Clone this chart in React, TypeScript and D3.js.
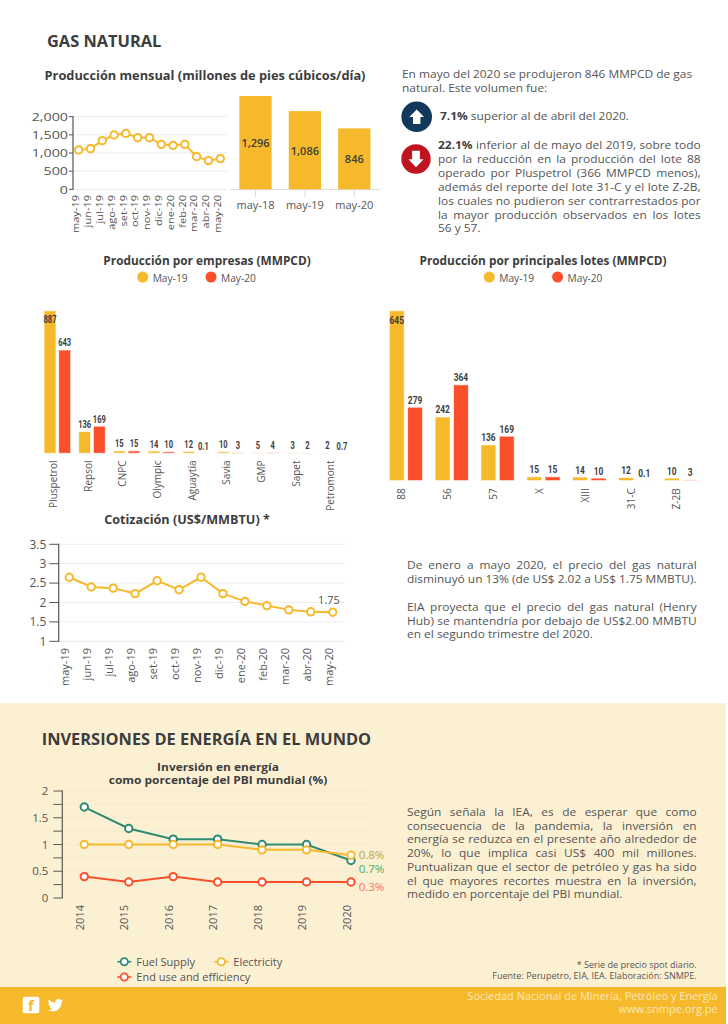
import * as d3 from "d3"

const FONT = "'Open Sans', sans-serif"
const CONDENSED = "Roboto, sans-serif"
const YELLOW = "#f6b92b"
const RED = "#fa4f2a"
const GREEN = "#2f8a72"
const TEXT = "#555555"
const DARK = "#3d3d3d"
const GRID = "#ececec"
const BODY = 11.3
const WIDEN = 1.055

const months = ["may-19", "jun-19", "jul-19", "ago-19", "set-19", "oct-19", "nov-19", "dic-19", "ene-20", "feb-20", "mar-20", "abr-20", "may-20"]
const production = [1086, 1120, 1340, 1495, 1540, 1422, 1422, 1238, 1211, 1238, 900, 790, 846]
const productionTicks = [0, 500, 1000, 1500, 2000]

const yearMonths = ["may-18", "may-19", "may-20"]
const yearProduction = [1296, 1086, 846]

const companies = ["Pluspetrol", "Repsol", "CNPC", "Olympic", "Aguaytía", "Savia", "GMP", "Sapet", "Petromont"]
const companies19 = [887, 136, 15, 14, 12, 10, 5, 3, 2]
const companies20 = [643, 169, 15, 10, 0.1, 3, 4, 2, 0.7]

const lots = ["88", "56", "57", "X", "XIII", "31-C", "Z-2B"]
const lots19 = [645, 242, 136, 15, 14, 12, 10]
const lots20 = [279, 364, 169, 15, 10, 0.1, 3]

const price = [2.65, 2.4, 2.37, 2.23, 2.56, 2.33, 2.65, 2.23, 2.03, 1.92, 1.81, 1.76, 1.75]
const priceTicks = [1, 1.5, 2, 2.5, 3, 3.5]

const years = ["2014", "2015", "2016", "2017", "2018", "2019", "2020"]
const fuelSupply = [1.7, 1.3, 1.1, 1.1, 1, 1, 0.7]
const electricity = [1, 1, 1, 1, 0.9, 0.9, 0.8]
const endUse = [0.4, 0.3, 0.4, 0.3, 0.3, 0.3, 0.3]
const investTicks = [0, 0.25, 0.5, 0.75, 1, 1.25, 1.5, 1.75, 2]

const introLines = ["En mayo del 2020 se produjeron 846 MMPCD de gas", "natural. Este volumen fue:"]
const downLines = [
  "inferior al de mayo del 2019, sobre todo",
  "por la reducción en la producción del lote 88",
  "operado por Pluspetrol (366 MMPCD menos),",
  "además del reporte del lote 31-C y el lote Z-2B,",
  "los cuales no pudieron ser contrarrestados por",
  "la mayor producción observados en los lotes",
  "56 y 57.",
]
const priceText1 = ["De enero a mayo 2020, el precio del gas natural", "disminuyó un 13% (de US$ 2.02 a US$ 1.75 MMBTU)."]
const priceText2 = ["EIA proyecta que el precio del gas natural (Henry", "Hub) se mantendría por debajo de US$2.00 MMBTU", "en el segundo trimestre del 2020."]
const investText = [
  "Según señala la IEA, es de esperar que como",
  "consecuencia de la pandemia, la inversión en",
  "energía se reduzca en el presente año alrededor de",
  "20%, lo que implica casi US$ 400 mil millones.",
  "Puntualizan que el sector de petróleo y gas ha sido",
  "el que mayores recortes muestra en la inversión,",
  "medido en porcentaje del PBI mundial.",
]

const TWITTER =
  "M23.953 4.57a10 10 0 01-2.825.775 4.958 4.958 0 002.163-2.723c-.951.555-2.005.959-3.127 1.184a4.92 4.92 0 00-8.384 4.482C7.69 8.095 4.067 6.13 1.64 3.162a4.822 4.822 0 00-.666 2.475c0 1.71.87 3.213 2.188 4.096a4.904 4.904 0 01-2.228-.616v.06a4.923 4.923 0 003.946 4.827 4.996 4.996 0 01-2.212.085 4.936 4.936 0 004.604 3.417 9.867 9.867 0 01-6.102 2.105c-.39 0-.779-.023-1.17-.067a13.995 13.995 0 007.557 2.209c9.053 0 13.998-7.496 13.998-13.985 0-.21 0-.42-.015-.63A9.935 9.935 0 0024 4.59z"

const ctx = document.createElement("canvas").getContext("2d")!
function measure(text: string, size: number, weight = 400) {
  ctx.font = `${weight} ${size}px 'Open Sans'`
  return ctx.measureText(text).width
}

// one justified line: the gaps between words are stretched up to the given width
function Justified({ text, x, y, width, size = BODY, bold = "" }: any) {
  const full = bold ? `${bold} ${text}` : text
  const natural = measure(text, size) + (bold ? measure(bold + " ", size, 700) : 0)
  const gaps = full.split(" ").length - 1
  const spacing = width ? (width / WIDEN - natural) / gaps : 0
  return (
    <text
      transform={`translate(${x},${y}) scale(${WIDEN},1)`}
      fontSize={size}
      fill={TEXT}
      wordSpacing={spacing}
      style={{ whiteSpace: "pre" }}
    >
      {bold && (
        <tspan fontWeight={700} fill={DARK}>
          {bold}{" "}
        </tspan>
      )}
      {text}
    </text>
  )
}

function Title({ x, y, size, children, anchor = "middle", weight = 700, stretch = 1 }: any) {
  return (
    <text transform={`translate(${x},${y}) scale(${stretch},1)`} fontSize={size} fontWeight={weight} fill={DARK} textAnchor={anchor}>
      {children}
    </text>
  )
}

function RotatedTick({ x, y, label, size = 11, stretch = 1 }: any) {
  return (
    <text transform={`translate(${x},${y}) rotate(-90) scale(${stretch},1)`} fontSize={size} fill={TEXT} textAnchor="end">
      {label}
    </text>
  )
}

function YAxis({ x, x2, scale, ticks, labels, tickLen = 9, gap = 3, size = 12, stretch = 1, grid = GRID, color = "#555" }: any) {
  const [bottom, top] = [scale(ticks[0]), scale(ticks[ticks.length - 1])]
  return (
    <g>
      {ticks.map((t: number) => (
        <g key={t}>
          <line x1={x} x2={x2} y1={scale(t)} y2={scale(t)} stroke={grid} strokeWidth={1} />
          <line x1={x - tickLen} x2={x} y1={scale(t)} y2={scale(t)} stroke={color} strokeWidth={1} />
          {labels(t) !== "" && (
            <text
              transform={`translate(${x - tickLen - gap},${scale(t) + 4.2}) scale(${stretch},1)`}
              fontSize={size}
              fill={TEXT}
              textAnchor="end"
            >
              {labels(t)}
            </text>
          )}
        </g>
      ))}
      <line x1={x} x2={x} y1={top - 0.5} y2={bottom + 0.5} stroke={color} strokeWidth={1.2} />
    </g>
  )
}

function Series({ values, x, y, domain, color, r = 3.7, width = 2 }: any) {
  const line = d3
    .line<number>()
    .x((_, i) => x(domain[i]))
    .y((d) => y(d))
  return (
    <g>
      <path d={line(values) ?? ""} fill="none" stroke={color} strokeWidth={width} />
      {values.map((v: number, i: number) => (
        <circle key={i} cx={x(domain[i])} cy={y(v)} r={r} fill="#fff" stroke={color} strokeWidth={width} />
      ))}
    </g>
  )
}

function GroupedBars({ cats, a, b, x0, y, base, squeeze, labelMax, sub }: any) {
  return (
    <g>
      {cats.map((c: string, i: number) => {
        const vals = [a[i], b[i]]
        return (
          <g key={c}>
            {vals.map((v: number, k: number) => {
              const left = x0(c) + sub(String(k))
              const top = y(v)
              return (
                <g key={k}>
                  <rect x={left} y={top} width={sub.bandwidth()} height={base - top} fill={k ? RED : YELLOW} stroke="#fff" strokeOpacity={0.75} strokeWidth={1} />
                  <text
                    transform={`translate(${left + sub.bandwidth() / 2},${Math.max(top - 3.5, labelMax)}) scale(${squeeze},1)`}
                    fontFamily={CONDENSED}
                    fontWeight={700}
                    fontSize={10.5}
                    fill={DARK}
                    textAnchor="middle"
                  >
                    {v}
                  </text>
                </g>
              )
            })}
          </g>
        )
      })}
    </g>
  )
}

function BarLegend({ x }: { x: number }) {
  return (
    <g fontSize={10.2} fill={TEXT}>
      <circle cx={x} cy={277} r={5.5} fill={YELLOW} />
      <text x={x + 10} y={282}>May-19</text>
      <circle cx={x + 68.3} cy={277} r={5.5} fill={RED} />
      <text x={x + 78.3} y={282}>May-20</text>
    </g>
  )
}

function LineLegend({ x, y, color, label }: any) {
  return (
    <g>
      <line x1={x - 7} x2={x + 7} y1={y} y2={y} stroke={color} strokeWidth={1.6} />
      <circle cx={x} cy={y} r={3.6} fill="#fff" stroke={color} strokeWidth={1.8} />
      <text x={x + 12} y={y + 4} fontSize={11} fill={TEXT}>{label}</text>
    </g>
  )
}

export default function App() {
  // monthly production
  const xMonth = d3.scalePoint().domain(months).range([78.7, 220.3])
  const yMonth = d3.scaleLinear().domain([0, 2000]).range([189.3, 116.7])

  // yearly bars
  const xYear = d3.scaleBand().domain(yearMonths).range([230.8, 379]).paddingInner(0.346).paddingOuter(0.173)
  const yYear = d3.scaleLinear().domain([0, 1296]).range([189.3, 96])

  // companies
  const xCompany = d3.scaleBand().domain(companies).range([40, 352])
  const subCompany = d3.scaleBand().domain(["0", "1"]).range([0, xCompany.bandwidth()]).paddingInner(0.18).paddingOuter(0.27)
  const yCompany = d3.scaleLinear().domain([0, 887]).range([453.3, 310.7])

  // lots
  const xLot = d3.scaleBand().domain(lots).range([383, 703.9])
  const subLot = d3.scaleBand().domain(["0", "1"]).range([0, xLot.bandwidth()]).paddingInner(0.18).paddingOuter(0.34)
  const yLot = d3.scaleLinear().domain([0, 645]).range([480.7, 310.7])

  // price
  const xPrice = d3.scalePoint().domain(months).range([69.3, 332.7])
  const yPrice = d3.scaleLinear().domain([1, 3.5]).range([641.3, 544.3])

  // investment
  const xInvest = d3.scalePoint().domain(years).range([84.3, 351])
  const yInvest = d3.scaleLinear().domain([0, 2]).range([898, 791])

  return (
    <svg width={728} height={1024} viewBox="0 0 728 1024" fontFamily={FONT} style={{ position: "absolute", left: 0, top: 0 }}>
      <rect width={728} height={1024} fill="#fff" />
      <rect y={703} width={726} height={284} fill="#fcf0d3" />
      <rect y={987} width={726} height={37} fill={YELLOW} />

      <Title x={47} y={47} size={16.4} anchor="start">GAS NATURAL</Title>
      <Title x={205} y={80} size={12.8}>Producción mensual (millones de pies cúbicos/día)</Title>

      {/* monthly line */}
      <YAxis x={73} x2={227} scale={yMonth} ticks={productionTicks} labels={(t: number) => d3.format(",")(t)} tickLen={4} gap={1} size={11.5} stretch={1.24} />
      <Series values={production} x={xMonth} y={yMonth} domain={months} color={YELLOW} />
      {months.map((m) => (
        <RotatedTick key={m} x={xMonth(m)! + 0.7} y={195} label={m} size={9.5} stretch={1.16} />
      ))}

      {/* yearly bars */}
      <line x1={230} x2={380} y1={189.5} y2={189.5} stroke="#dddddd" />
      {yearMonths.map((m, i) => (
        <g key={m}>
          <rect x={xYear(m)} y={yYear(yearProduction[i])} width={xYear.bandwidth()} height={189.3 - yYear(yearProduction[i])} fill={YELLOW} />
          <line x1={xYear(m)! + xYear.bandwidth() / 2} x2={xYear(m)! + xYear.bandwidth() / 2} y1={189.5} y2={197} stroke="#dddddd" />
          <text x={xYear(m)! + xYear.bandwidth() / 2} y={189.3 - (189.3 - yYear(yearProduction[i])) / 2 + 4.5} fontSize={11} fontWeight={600} fill={DARK} textAnchor="middle">
            {d3.format(",")(yearProduction[i])}
          </text>
          <text x={xYear(m)! + xYear.bandwidth() / 2} y={209} fontSize={11} fill={TEXT} textAnchor="middle">{m}</text>
        </g>
      ))}

      {/* top right text */}
      {introLines.map((l, i) => (
        <Justified key={i} text={l} x={402} y={77.5 + i * 14} />
      ))}
      <circle cx={416.7} cy={116.7} r={15.3} fill="#12395b" />
      <path d="M416.7 109.5l7.3 7.5h-3.6v7h-7.4v-7h-3.6z" fill="#fff" />
      <text transform={`translate(440,120) scale(${WIDEN},1)`} fontSize={BODY} fill={TEXT}>
        <tspan fontWeight={700} fill={DARK}>7.1%</tspan> superior al de abril del 2020.
      </text>
      <circle cx={416} cy={159} r={14.7} fill="#c0141f" />
      <path d="M416 167.3l-7.6-8h3.7v-8.6h7.8v8.6h3.7z" fill="#fff" />
      {downLines.map((l, i) => (
        <Justified key={i} text={l} bold={i === 0 ? "22.1%" : ""} x={438} y={149.3 + i * 13.85} width={i < 6 ? 262.7 : 0} />
      ))}

      {/* companies */}
      <Title x={207} y={265} size={11.85}>Producción por empresas (MMPCD)</Title>
      <BarLegend x={142.7} />
      <GroupedBars cats={companies} a={companies19} b={companies20} x0={xCompany} y={yCompany} base={453.3} squeeze={0.72} labelMax={323} sub={subCompany} />
      {companies.map((c) => (
        <RotatedTick key={c} x={xCompany(c)! + xCompany.bandwidth() / 2 - 0.5} y={460.5} label={c} size={10} />
      ))}

      {/* lots */}
      <Title x={543} y={265} size={11.85}>Producción por principales lotes (MMPCD)</Title>
      <BarLegend x={489.3} />
      <GroupedBars cats={lots} a={lots19} b={lots20} x0={xLot} y={yLot} base={480.7} squeeze={0.8} labelMax={323.5} sub={subLot} />
      {lots.map((c) => (
        <RotatedTick key={c} x={xLot(c)! + xLot.bandwidth() / 2 - 0.5} y={488.3} label={c} size={10} />
      ))}

      {/* price */}
      <Title x={187} y={523.5} size={12.65}>Cotización (US$/MMBTU) *</Title>
      <YAxis x={58.7} x2={344.3} scale={yPrice} ticks={priceTicks} labels={(t: number) => String(t)} tickLen={9.4} />
      <Series values={price} x={xPrice} y={yPrice} domain={months} color={YELLOW} />
      <text x={329} y={604} fontSize={11} fill={TEXT} textAnchor="middle">{price[price.length - 1]}</text>
      {months.map((m) => (
        <RotatedTick key={m} x={xPrice(m)!} y={648} label={m} />
      ))}

      {priceText1.map((l, i) => (
        <Justified key={i} text={l} x={407} y={569.3 + i * 14} width={289.7} />
      ))}
      {priceText2.map((l, i) => (
        <Justified key={i} text={l} x={407} y={610.7 + i * 13.8} width={i < 2 ? 289.7 : 0} />
      ))}

      {/* investment */}
      <Title x={41.7} y={745} size={16.4} anchor="start">INVERSIONES DE ENERGÍA EN EL MUNDO</Title>
      <Title x={218} y={770.7} size={11.4} stretch={1.048}>Inversión en energía</Title>
      <Title x={218} y={784} size={11.4} stretch={1.048}>como porcentaje del PBI mundial (%)</Title>
      <YAxis
        x={62.3}
        x2={374}
        scale={yInvest}
        ticks={investTicks}
        labels={(t: number) => (t % 0.5 === 0 ? String(t) : "")}
        tickLen={9}
        gap={5}
        size={11.5}
        grid="#f3ead6"
        color="#5c5a50"
      />
      <Series values={endUse} x={xInvest} y={yInvest} domain={years} color={RED} />
      <Series values={fuelSupply} x={xInvest} y={yInvest} domain={years} color={GREEN} />
      <Series values={electricity} x={xInvest} y={yInvest} domain={years} color={YELLOW} />
      <text x={358.7} y={859} fontSize={11.5} fill="#b7a850">{electricity[6]}%</text>
      <text x={358.7} y={872.7} fontSize={11.5} fill="#4fae5e">{fuelSupply[6]}%</text>
      <text x={358.7} y={890.7} fontSize={11.5} fill="#f4735a">{endUse[6]}%</text>
      {years.map((y) => (
        <RotatedTick key={y} x={xInvest(y)! - 0.5} y={905} label={y} />
      ))}
      <LineLegend x={124.3} y={961.7} color={GREEN} label="Fuel Supply" />
      <LineLegend x={221.3} y={961.7} color={YELLOW} label="Electricity" />
      <LineLegend x={124.3} y={977} color={RED} label="End use and efficiency" />

      {investText.map((l, i) => (
        <Justified key={i} text={l} x={407} y={816 + i * 13.7} width={i < 6 ? 289.7 : 0} />
      ))}

      <g fontSize={9.05} fill={TEXT} textAnchor="end">
        <text x={696.7} y={967.7}>* Serie de precio spot diario.</text>
        <text x={696.7} y={979}>Fuente: Perupetro, EIA, IEA. Elaboración: SNMPE.</text>
      </g>

      {/* footer */}
      <rect x={22.7} y={996.7} width={16.6} height={16.6} rx={2} fill="#fff" />
      <text x={31} y={1011} fontSize={15} fontWeight={700} fill={YELLOW} textAnchor="middle">f</text>
      <path d={TWITTER} transform="translate(47.7,997.5) scale(0.64)" fill="#fff" />
      <g fontSize={11} fill="#fce7b8" textAnchor="end">
        <text x={717.7} y={1000}>Sociedad Nacional de Minería, Petróleo y Energía</text>
        <text x={717.7} y={1013.3}>www.snmpe.org.pe</text>
      </g>
    </svg>
  )
}
